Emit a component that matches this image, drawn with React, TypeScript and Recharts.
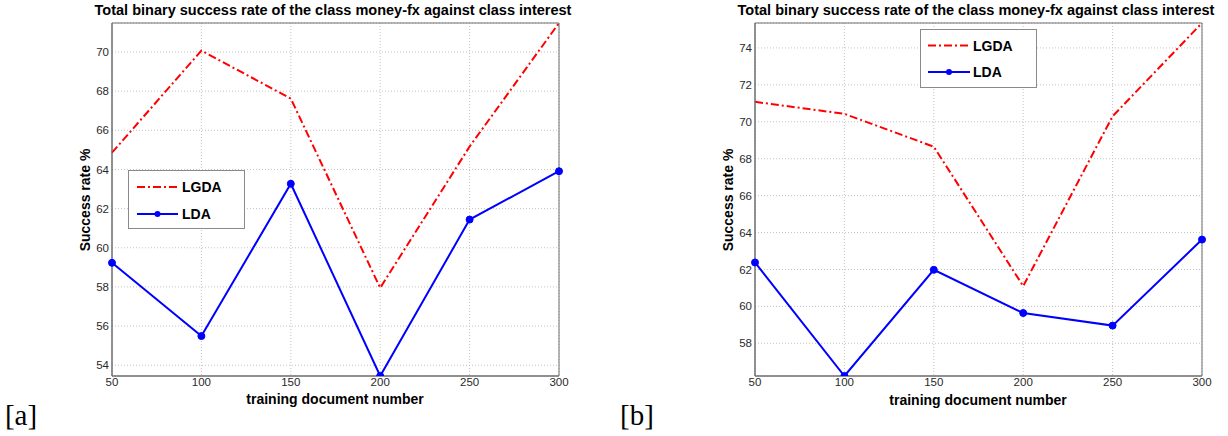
import React from "react"
import {
  LineChart,
  Line,
  XAxis,
  YAxis,
  CartesianGrid,
  Legend,
  ReferenceArea,
} from "recharts"

const docNumbers = [50, 100, 150, 200, 250, 300]
const xTicks = [50, 100, 150, 200, 250, 300]

const lgdaA = [64.86, 70.07, 67.62, 57.95, 65.17, 71.48]
const ldaA = [59.23, 55.49, 63.27, 53.45, 61.44, 63.91]
const yTicksA = [54, 56, 58, 60, 62, 64, 66, 68, 70]

const lgdaB = [71.08, 70.43, 68.65, 61.1, 70.3, 75.35]
const ldaB = [62.38, 56.23, 61.98, 59.64, 58.96, 63.62]
const yTicksB = [58, 60, 62, 64, 66, 68, 70, 72, 74]

const seriesNames = ["LGDA", "LDA"]
const titleText = "Total binary success rate of the class money-fx against class interest"
const xLabelText = "training document number"
const yLabelText = "Success rate %"

const RED = "#ff0000"
const BLUE = "#0000ff"
const SANS = "'Liberation Sans', Arial, sans-serif"
const SERIF = "'Liberation Serif', 'DejaVu Serif', serif"

function buildRows(lgda: number[], lda: number[]) {
  return docNumbers.map((n, i) => ({ n, lgda: lgda[i], lda: lda[i] }))
}

function Caption({ x, y, size, text, rotate = 0, family = SANS, weight = 700 }: any) {
  return (
    <div
      style={{
        position: "absolute",
        left: x,
        top: y,
        transform: `translate(-50%, -50%) rotate(${rotate}deg)`,
        whiteSpace: "nowrap",
        fontFamily: family,
        fontWeight: weight,
        fontSize: size,
        color: "#000",
        lineHeight: 1,
      }}
    >
      {text}
    </div>
  )
}

function LegendBox({ w, h, rowY, lineX0, lineX1, textX, fontSize }: any) {
  return (
    <svg width={w} height={h} style={{ display: "block" }}>
      <rect x={0.5} y={0.5} width={w - 1} height={h - 1} fill="#fff" stroke="#8a8a8a" />
      <line x1={lineX0} x2={lineX1} y1={rowY[0]} y2={rowY[0]} stroke={RED} strokeWidth={2} strokeDasharray="8 3 2 3" />
      <text x={textX} y={rowY[0]} dy="0.36em" fontFamily={SANS} fontWeight={700} fontSize={fontSize} fill="#000">
        {seriesNames[0]}
      </text>
      <line x1={lineX0} x2={lineX1} y1={rowY[1]} y2={rowY[1]} stroke={BLUE} strokeWidth={2} />
      <circle cx={(lineX0 + lineX1) / 2} cy={rowY[1]} r={3} fill={BLUE} />
      <text x={textX} y={rowY[1]} dy="0.36em" fontFamily={SANS} fontWeight={700} fontSize={fontSize} fill="#000">
        {seriesNames[1]}
      </text>
    </svg>
  )
}

function Panel({ lgda, lda, yTicks, width, yAxisWidth, marginRight, marginBottom, legend }: any) {
  const rows = buildRows(lgda, lda)
  const all = [...lgda, ...lda]
  const yMin = Math.min(...all)
  const yMax = Math.max(...all)
  const tick = { fontSize: 11.5, fill: "#2a2a2a", fontFamily: SANS }
  return (
    <LineChart
      width={width}
      height={436}
      data={rows}
      margin={{ top: 23, right: marginRight, bottom: marginBottom, left: 0 }}
    >
      <CartesianGrid stroke="#c4c4c4" strokeDasharray="1 2" />
      <XAxis
        dataKey="n"
        type="number"
        domain={[50, 300]}
        ticks={xTicks}
        height={30}
        tickLine={false}
        tickSize={0}
        tickMargin={2}
        tick={tick}
        stroke="#6e6e6e"
      />
      <YAxis
        type="number"
        domain={[yMin, yMax]}
        ticks={yTicks}
        width={yAxisWidth}
        tickLine={false}
        tickSize={0}
        tickMargin={3}
        tick={tick}
        stroke="#6e6e6e"
        allowDataOverflow
      />
      <ReferenceArea x1={50} x2={300} y1={yMin} y2={yMax} fill="none" stroke="#6e6e6e" strokeWidth={1} ifOverflow="visible" />
      <Legend
        layout="vertical"
        align="center"
        verticalAlign="middle"
        wrapperStyle={{ left: legend.left, top: legend.top, width: legend.w, height: legend.h }}
        content={() => <LegendBox {...legend} />}
      />
      <Line
        dataKey="lgda"
        name={seriesNames[0]}
        stroke={RED}
        strokeWidth={2}
        strokeDasharray="8 3 2 3"
        dot={false}
        isAnimationActive={false}
      />
      <Line
        dataKey="lda"
        name={seriesNames[1]}
        stroke={BLUE}
        strokeWidth={2}
        dot={{ r: 3.5, fill: BLUE, stroke: BLUE, strokeWidth: 1 }}
        isAnimationActive={false}
      />
    </LineChart>
  )
}

export default function App() {
  return (
    <div style={{ position: "absolute", left: 0, top: 0, width: 1228, height: 436, background: "#fff", overflow: "hidden" }}>
      <div style={{ position: "absolute", left: 0, top: 0 }}>
        <Panel
          lgda={lgdaA}
          lda={ldaA}
          yTicks={yTicksA}
          width={600}
          yAxisWidth={112}
          marginRight={41}
          marginBottom={30}
          legend={{ left: 128, top: 170, w: 117, h: 59, rowY: [17, 44], lineX0: 9, lineX1: 50, textX: 54, fontSize: 14 }}
        />
      </div>
      <div style={{ position: "absolute", left: 620, top: 0 }}>
        <Panel
          lgda={lgdaB}
          lda={ldaB}
          yTicks={yTicksB}
          width={608}
          yAxisWidth={135}
          marginRight={26}
          marginBottom={30}
          legend={{ left: 300, top: 29, w: 117, h: 59, rowY: [16.5, 43], lineX0: 8, lineX1: 50, textX: 53, fontSize: 14 }}
        />
      </div>

      <Caption x={333} y={10} size={14.5} text={titleText} />
      <Caption x={85} y={200} size={14} text={yLabelText} rotate={-90} />
      <Caption x={335} y={399} size={14} text={xLabelText} />
      <Caption x={21} y={415} size={29} text="[a]" family={SERIF} weight={400} />

      <Caption x={976} y={10} size={14.5} text={titleText} />
      <Caption x={728} y={200} size={14} text={yLabelText} rotate={-90} />
      <Caption x={978} y={400} size={14} text={xLabelText} />
      <Caption x={637} y={415} size={29} text="[b]" family={SERIF} weight={400} />
    </div>
  )
}
